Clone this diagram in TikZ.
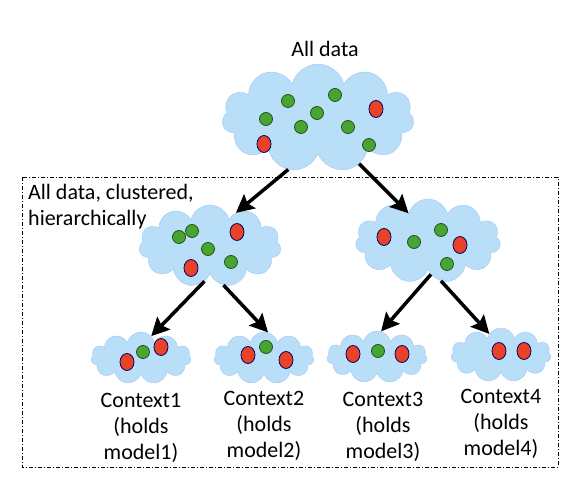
\documentclass[tikz,border=0pt]{standalone}
\usepackage{fontspec}
\setmainfont{Carlito}
\usetikzlibrary{shapes.symbols, shapes.geometric, arrows.meta, positioning}
\definecolor{cloudblue}{RGB}{185,222,247}
\definecolor{dotgreen}{RGB}{72,165,52}
\definecolor{dotred}{RGB}{232,66,40}
\tikzset{
  blob/.style={cloud, cloud puffs=11, cloud ignores aspect, fill=cloudblue,
               draw=cloudblue!85!blue, line width=0.3pt, inner sep=0pt},
  gdot/.style={circle, fill=dotgreen, draw=dotgreen!50!black, line width=0.8pt,
               minimum size=13pt, inner sep=0pt},
  rdot/.style={ellipse, fill=dotred, draw=blue!40!black, line width=0.8pt,
               minimum width=14pt, minimum height=17pt, inner sep=0pt},
  txt/.style={font=\fontsize{22}{26}\selectfont, align=center, inner sep=0pt},
  arrow/.style={-{Stealth[length=18pt, width=18pt, inset=3pt]}, line width=3.5pt},
}

\begin{document}
\begin{tikzpicture}[x=1pt, y=-1pt, node distance=4pt]
  \useasboundingbox (0,0) rectangle (584,492);

  % clouds
  \node[blob, minimum width=192pt, minimum height=108pt] (top) at (318,118) {};
  \node[blob, minimum width=142pt, minimum height=82pt] (midL) at (210,246) {};
  \node[blob, minimum width=145pt, minimum height=84pt] (midR) at (428,241) {};
  \node[blob, minimum width=100pt, minimum height=52pt] (c1) at (141,358) {};
  \node[blob, minimum width=100pt, minimum height=52pt] (c2) at (264,358) {};
  \node[blob, minimum width=100pt, minimum height=52pt] (c3) at (377,357) {};
  \node[blob, minimum width=100pt, minimum height=54pt] (c4) at (501,355) {};

  % dots
  \foreach \x/\y in {288/101, 335/95, 266/119, 317/113, 301/127, 348/127, 369/145,
                     179/237, 192/231, 208/249, 231/262,
                     414/242, 441/230, 447/264,
                     143/352, 266/347, 378/351}
    \node[gdot] at (\x,\y) {};
  \foreach \x/\y in {376/109, 264/144, 237/232, 191/268, 384/237, 460/245,
                     127/362, 161/347, 248/355, 286/360, 353/354, 402/354,
                     499/351, 524/351}
    \node[rdot] at (\x,\y) {};

  % frame of the hierarchy
  \draw[dash pattern=on 4pt off 2pt on 1pt off 2pt, line width=0.8pt]
    (22,177) rectangle (558,467);

  % labels
  \node[txt, above=7pt of top, xshift=7pt] (alldata) {All data};
  \node[txt, align=left, anchor=north west] (clust) at (28,184)
    {All data, clustered,\\hierarchically};
  \node[txt, below=18pt of c1] (t1) {Context1\\(holds\\model1)};
  \node[txt, below=16pt of c2] (t2) {Context2\\(holds\\model2)};
  \node[txt, below=18pt of c3, xshift=6pt] (t3) {Context3\\(holds\\model3)};
  \node[txt, below=16pt of c4] (t4) {Context4\\(holds\\model4)};

  % arrows
  \draw[arrow] (top.240) -- (midL.52);
  \draw[arrow] (top.312) -- (midR.125);
  \draw[arrow] (midL.261) -- (c1.65);
  \draw[arrow] (midL.289) -- (c2.81);
  \draw[arrow] (midR.275) -- (c3.81);
  \draw[arrow] (midR.288) -- (c4.119);
\end{tikzpicture}
\end{document}
